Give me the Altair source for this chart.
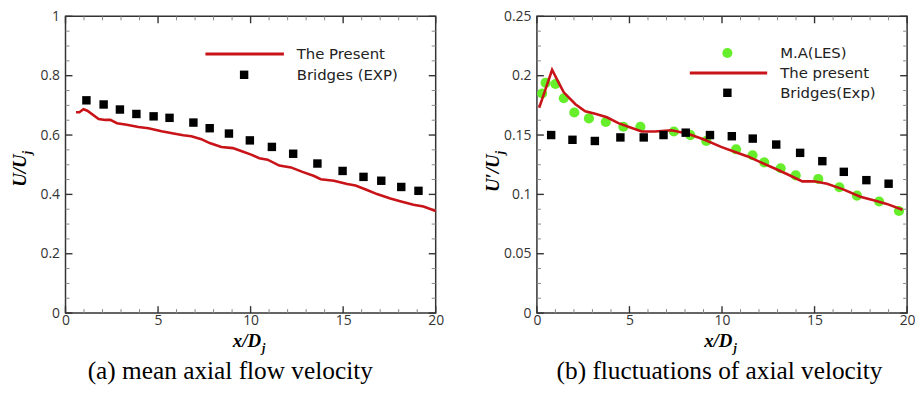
import altair as alt
import pandas as pd

# ---------------- data: panel (a) mean axial velocity ----------------
a_line_x = [0.57, 0.75, 0.97, 1.18, 1.79, 2.15, 2.42, 2.78, 3.31, 3.94, 4.48, 5.19, 5.91, 6.36,
            6.80, 7.34, 7.79, 8.42, 9.04, 9.49, 10.03, 10.47, 10.92, 11.55, 12.18, 12.80, 13.43,
            13.79, 14.50, 15.22, 15.67, 16.29, 16.83, 17.55, 18.08, 18.80, 19.34, 20.0]
a_line_y = [0.677, 0.677, 0.687, 0.682, 0.654, 0.651, 0.651, 0.640, 0.635, 0.627, 0.623, 0.613,
            0.604, 0.599, 0.596, 0.586, 0.573, 0.560, 0.556, 0.546, 0.534, 0.522, 0.517, 0.497,
            0.491, 0.476, 0.462, 0.451, 0.446, 0.435, 0.430, 0.415, 0.401, 0.386, 0.377, 0.365,
            0.359, 0.344]
a_exp_x = [1.13, 2.06, 2.94, 3.83, 4.76, 5.62, 6.91, 7.79, 8.83, 9.96, 11.15, 12.30, 13.61,
           14.97, 16.10, 17.06, 18.14, 19.07]
a_exp_y = [0.717, 0.703, 0.686, 0.671, 0.663, 0.658, 0.642, 0.623, 0.605, 0.582, 0.560, 0.537,
           0.504, 0.479, 0.459, 0.446, 0.425, 0.412]

# ---------------- data: panel (b) fluctuations ----------------
b_line_x = [0.12, 0.32, 0.82, 1.18, 1.45, 2.08, 2.61, 3.15, 3.78, 4.40, 4.94, 5.66, 6.37, 7.27,
            8.16, 9.06, 9.95, 10.67, 11.39, 12.10, 12.82, 13.53, 14.34, 14.97, 15.68, 16.58,
            17.47, 18.19, 18.90, 19.75]
b_line_y = [0.173, 0.182, 0.205, 0.194, 0.186, 0.176, 0.170, 0.168, 0.165, 0.160, 0.157, 0.153,
            0.153, 0.154, 0.151, 0.146, 0.140, 0.136, 0.132, 0.127, 0.122, 0.117, 0.111, 0.111,
            0.109, 0.104, 0.098, 0.095, 0.092, 0.087]
b_les_x = [0.28, 0.47, 1.00, 1.45, 2.02, 2.81, 3.72, 4.67, 5.59, 7.40, 8.29, 9.15, 10.76, 11.65,
           12.28, 13.17, 13.98, 15.20, 16.34, 17.29, 18.49, 19.56]
b_les_y = [0.185, 0.194, 0.193, 0.181, 0.169, 0.164, 0.161, 0.157, 0.157, 0.153, 0.150, 0.145,
           0.138, 0.133, 0.127, 0.122, 0.116, 0.113, 0.106, 0.099, 0.094, 0.086]
b_exp_x = [0.77, 1.92, 3.13, 4.51, 5.77, 6.84, 8.04, 9.35, 10.53, 11.66, 12.93, 14.22, 15.42,
           16.58, 17.80, 19.00]
b_exp_y = [0.150, 0.146, 0.145, 0.148, 0.148, 0.150, 0.152, 0.150, 0.149, 0.147, 0.142, 0.135,
           0.128, 0.119, 0.112, 0.109]

# ---------------- ticks ----------------
x_major = [0, 5, 10, 15, 20]
x_minor = [1, 2, 3, 4, 6, 7, 8, 9, 11, 12, 13, 14, 16, 17, 18, 19]
a_y_major = [0, 0.2, 0.4, 0.6, 0.8, 1.0]
a_y_minor = [0.05, 0.1, 0.15, 0.25, 0.3, 0.35, 0.45, 0.5, 0.55, 0.65, 0.7, 0.75, 0.85, 0.9, 0.95]
b_y_major = [0, 0.05, 0.1, 0.15, 0.2, 0.25]
b_y_minor = [0.0125, 0.025, 0.0375, 0.0625, 0.075, 0.0875, 0.1125, 0.125, 0.1375, 0.1625,
             0.175, 0.1875, 0.2125, 0.225, 0.2375]

# legend texts
a_legend = ["The Present", "Bridges (EXP)"]
b_legend = ["M.A(LES)", "The present", "Bridges(Exp)"]

W, H = 373, 299
RED = "#c81418"
GREEN = "#66ee2a"
FRAME = "#333333"
SANS = "Open Sans"
LEGFONT = "DejaVu Sans"
SERIF = "Liberation Serif"


def text_layer(txt, x, y, size, font, weight="normal", style="normal", align="center",
               angle=0, dy=0, baseline="alphabetic", color="black"):
    return alt.Chart(pd.DataFrame({"t": [txt]})).mark_text(
        font=font, fontSize=size, fontWeight=weight, fontStyle=style, align=align,
        baseline=baseline, angle=angle, dy=dy, color=color).encode(
        x=alt.value(x), y=alt.value(y), text="t:N")


def panel(ydom, ymaj, ymin, data_fn, leg_fn, ytitle, caption, cap_x, ytitle_x):
    xs = alt.Scale(domain=[0, 20], nice=False, zero=False)
    ys = alt.Scale(domain=ydom, nice=False, zero=False)
    axis_x = alt.Axis(values=x_major, tickSize=0, domain=False, grid=False, title=None,
                      labelFont=SANS, labelFontSize=14, labelColor=FRAME, labelPadding=0,
                      labelFlush=False)
    axis_y = alt.Axis(values=ymaj, tickSize=0, domain=False, grid=False, title=None,
                      labelFont=SANS, labelFontSize=14, labelColor=FRAME, labelPadding=6,
                      format="~g", labelFlush=False)

    def X(f):
        return alt.X(f, scale=xs, axis=axis_x)

    def Y(f):
        return alt.Y(f, scale=ys, axis=axis_y)

    layers = []
    # inward ticks on all four sides (major and minor)
    for vals, ln, col, sw in [(x_major, 7, FRAME, 1.4), (x_minor, 4, "#888888", 1.0)]:
        d = pd.DataFrame({"v": vals})
        for y0, y1 in [(H, H - ln), (0, ln)]:
            layers.append(alt.Chart(d).mark_rule(color=col, strokeWidth=sw).encode(
                x=X("v:Q"), y=alt.value(y0), y2=alt.value(y1)))
    for vals, ln, col, sw in [(ymaj, 7, FRAME, 1.4), (ymin, 4, "#888888", 1.0)]:
        d = pd.DataFrame({"v": vals})
        for x0, x1 in [(0, ln), (W, W - ln)]:
            layers.append(alt.Chart(d).mark_rule(color=col, strokeWidth=sw).encode(
                y=Y("v:Q"), x=alt.value(x0), x2=alt.value(x1)))
    layers += data_fn(X, Y)
    layers += leg_fn(X, Y)
    # axis titles and caption
    layers.append(text_layer("x/D", 197, 333, 19, SERIF, "bold", "italic", align="right"))
    layers.append(text_layer("j", 198, 338, 12, SERIF, "bold", "italic", align="left"))
    layers.append(text_layer(ytitle, ytitle_x, 139, 19, SERIF, "bold", "italic",
                             align="right", angle=270))
    layers.append(text_layer("j", ytitle_x, 139, 12, SERIF, "bold", "italic",
                             align="left", angle=270, dy=5))
    layers.append(text_layer(caption, cap_x, 365, 25.5, SERIF))
    return alt.layer(*layers).properties(width=W, height=H)


def a_data(X, Y):
    line = pd.DataFrame({"x": a_line_x, "y": a_line_y})
    exp = pd.DataFrame({"x": a_exp_x, "y": a_exp_y})
    return [
        alt.Chart(line).mark_line(color=RED, strokeWidth=2.6).encode(
            x=X("x:Q"), y=Y("y:Q"), order="x:Q"),
        alt.Chart(exp).mark_square(color="black", size=72, opacity=1).encode(
            x=X("x:Q"), y=Y("y:Q")),
    ]


def a_leg(X, Y):
    seg = pd.DataFrame({"x": [7.56], "x2": [11.80], "y": [0.873]})
    sq = pd.DataFrame({"x": [9.65], "y": [0.803]})
    txt = pd.DataFrame({"x": [12.49, 12.49], "y": [0.873, 0.803], "t": a_legend})
    return [
        alt.Chart(seg).mark_rule(color=RED, strokeWidth=3).encode(
            x=X("x:Q"), x2="x2:Q", y=Y("y:Q")),
        alt.Chart(sq).mark_square(color="black", size=72, opacity=1).encode(
            x=X("x:Q"), y=Y("y:Q")),
        alt.Chart(txt).mark_text(font=LEGFONT, fontSize=15, align="left", baseline="middle",
                                 color="#222222").encode(x=X("x:Q"), y=Y("y:Q"), text="t:N"),
    ]


def b_data(X, Y):
    line = pd.DataFrame({"x": b_line_x, "y": b_line_y})
    les = pd.DataFrame({"x": b_les_x, "y": b_les_y})
    exp = pd.DataFrame({"x": b_exp_x, "y": b_exp_y})
    return [
        alt.Chart(les).mark_circle(color=GREEN, size=105, opacity=1).encode(
            x=X("x:Q"), y=Y("y:Q")),
        alt.Chart(line).mark_line(color=RED, strokeWidth=2.6).encode(
            x=X("x:Q"), y=Y("y:Q"), order="x:Q"),
        alt.Chart(exp).mark_square(color="black", size=72, opacity=1).encode(
            x=X("x:Q"), y=Y("y:Q")),
    ]


def b_leg(X, Y):
    circ = pd.DataFrame({"x": [10.29], "y": [0.2191]})
    seg = pd.DataFrame({"x": [8.26], "x2": [12.44], "y": [0.2023]})
    sq = pd.DataFrame({"x": [10.29], "y": [0.1856]})
    txt = pd.DataFrame({"x": [13.14, 13.14, 13.14], "y": [0.2191, 0.2023, 0.1856], "t": b_legend})
    return [
        alt.Chart(circ).mark_circle(color=GREEN, size=105, opacity=1).encode(
            x=X("x:Q"), y=Y("y:Q")),
        alt.Chart(seg).mark_rule(color=RED, strokeWidth=3).encode(
            x=X("x:Q"), x2="x2:Q", y=Y("y:Q")),
        alt.Chart(sq).mark_square(color="black", size=72, opacity=1).encode(
            x=X("x:Q"), y=Y("y:Q")),
        alt.Chart(txt).mark_text(font=LEGFONT, fontSize=15, align="left", baseline="middle",
                                 color="#222222").encode(x=X("x:Q"), y=Y("y:Q"), text="t:N"),
    ]


left = panel([0, 1], a_y_major, a_y_minor, a_data, a_leg, "U/U",
             "(a) mean axial flow velocity", 166, -40)
right = panel([0, 0.25], b_y_major, b_y_minor, b_data, b_leg, "U\u2032/U",
              "(b) fluctuations of axial velocity", 184, -38)

chart = alt.hconcat(left, right, spacing=102, bounds="flush").properties(
    padding={"left": 10, "top": 7, "right": 5, "bottom": 0}, background="white"
).configure_view(stroke=FRAME, strokeWidth=1.5)

chart.save("out.html", embed_options={"renderer": "svg", "actions": False})
